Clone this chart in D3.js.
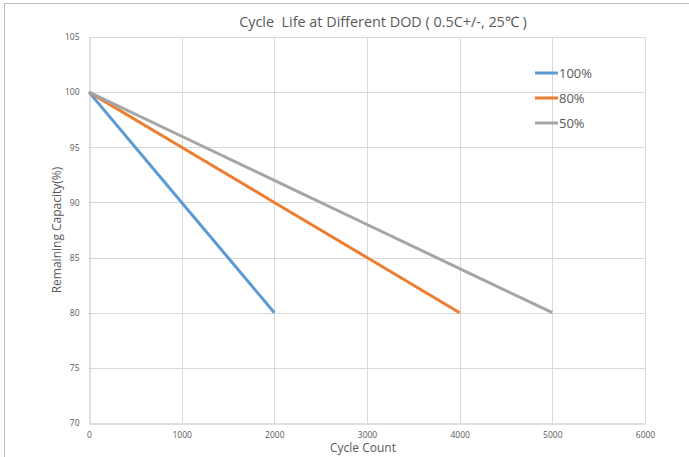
<!doctype html>
<html>
<head>
    <meta charset="utf-8">
    <script src="https://d3js.org/d3.v7.min.js"></script>
</head>
<style>
    body { margin: 0; background: #fff; }
    svg text { font-family: "Open Sans", sans-serif; fill: #595959; }
</style>
<body>
    <div id="chart"></div>
    <script>
        // cycle counts and remaining capacity for each depth of discharge
        var cycles = [0, 1000, 2000, 3000, 4000, 5000];
        var dod100 = [100, 90, 80];
        var dod80 = [100, 95, 90, 85, 80];
        var dod50 = [100, 96, 92, 88, 84, 80];
        var seriesNames = ["100%", "80%", "50%"];
        var colors = ["#5B9BD5", "#ED7D31", "#A5A5A5"];
        var xTicks = [0, 1000, 2000, 3000, 4000, 5000, 6000];
        var yTicks = [70, 75, 80, 85, 90, 95, 100, 105];

        var width = 689,
            height = 457;

        var svg = d3.select("#chart")
                    .append("svg")
                    .attr("width", width)
                    .attr("height", height);

        // outer frame
        svg.append("rect")
           .attr("x", 4.5).attr("y", 3.5)
           .attr("width", 700).attr("height", 500)
           .attr("fill", "none")
           .attr("stroke", "#bfbfbf");

        var x = d3.scaleLinear().domain([0, 6000]).range([89, 645]);
        var y = d3.scaleLinear().domain([70, 105]).range([423, 37]);

        // gridlines
        svg.append("g").selectAll("line")
           .data(xTicks.slice(1))
           .enter().append("line")
           .attr("x1", function(d) { return Math.round(x(d)) + 0.5; })
           .attr("x2", function(d) { return Math.round(x(d)) + 0.5; })
           .attr("y1", y(105)).attr("y2", y(70))
           .attr("stroke", "#d9d9d9");

        svg.append("g").selectAll("line")
           .data(yTicks.slice(1))
           .enter().append("line")
           .attr("y1", function(d) { return Math.round(y(d)) + 0.5; })
           .attr("y2", function(d) { return Math.round(y(d)) + 0.5; })
           .attr("x1", x(0)).attr("x2", x(6000))
           .attr("stroke", "#d9d9d9");

        // axes
        var xAxis = svg.append("g")
           .attr("transform", "translate(0," + (Math.round(y(70)) + 0.5) + ")")
           .call(d3.axisBottom(x).tickValues(xTicks).tickFormat(d3.format("d"))
                   .tickSize(0).tickPadding(8));
        var yAxis = svg.append("g")
           .attr("transform", "translate(" + (Math.round(x(0)) + 0.5) + ",0)")
           .call(d3.axisLeft(y).tickValues(yTicks).tickSize(0).tickPadding(10));
        [xAxis, yAxis].forEach(function(a) {
            a.select(".domain").attr("stroke", "#bfbfbf");
            a.selectAll("text").attr("font-size", "8.5px").attr("fill", "#595959")
             .attr("font-family", "'Open Sans', sans-serif");
        });

        // series lines
        var line = d3.line()
                     .x(function(d, i) { return x(cycles[i]); })
                     .y(function(d) { return y(d); });

        var series = [dod100, dod80, dod50];
        svg.append("g").selectAll("path")
           .data(series)
           .enter().append("path")
           .attr("d", line)
           .attr("fill", "none")
           .attr("stroke", function(d, i) { return colors[i]; })
           .attr("stroke-width", 3);

        // title and axis labels
        svg.append("text")
           .attr("x", 383).attr("y", 27)
           .attr("text-anchor", "middle")
           .attr("font-size", "14.4px")
           .attr("xml:space", "preserve")
           .text("Cycle  Life at Different DOD ( 0.5C+/-, 25\u2103 )");

        svg.append("text")
           .attr("transform", "translate(61,230) rotate(-90)")
           .attr("text-anchor", "middle")
           .attr("font-size", "12px")
           .text("Remaining Capacity(%)");

        svg.append("text")
           .attr("x", 363).attr("y", 452)
           .attr("text-anchor", "middle")
           .attr("font-size", "12px")
           .text("Cycle Count");

        // legend
        var legend = svg.append("g").selectAll("g")
           .data(seriesNames)
           .enter().append("g")
           .attr("transform", function(d, i) {
               return "translate(535," + (73 + i * 25) + ")";
           });
        legend.append("line")
              .attr("x1", 0).attr("x2", 23)
              .attr("stroke", function(d, i) { return colors[i]; })
              .attr("stroke-width", 3);
        legend.append("text")
              .attr("x", 24).attr("dy", "0.36em")
              .attr("font-size", "13px")
              .text(function(d) { return d; });
    </script>
</body>
</html>
